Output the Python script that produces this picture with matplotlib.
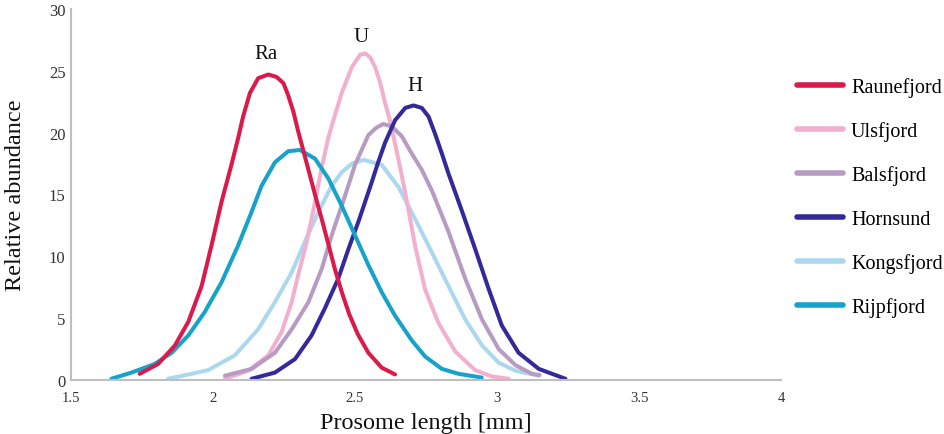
import matplotlib
matplotlib.use("Agg")
import matplotlib.pyplot as plt

plt.rcParams['font.family'] = ['Liberation Serif', 'DejaVu Serif']

# curves (prosome length [mm], relative abundance)
rau_x = [1.742, 1.807, 1.866, 1.913, 1.960, 1.995, 2.030, 2.065, 2.089, 2.106, 2.130, 2.159,
         2.195, 2.224, 2.248, 2.265, 2.283, 2.300, 2.336, 2.359, 2.383, 2.406, 2.430, 2.455,
         2.480, 2.510, 2.547, 2.594, 2.641]
rau_y = [0.5, 1.3, 2.8, 4.7, 7.6, 10.9, 14.4, 17.4, 19.6, 21.3, 23.2, 24.4,
         24.7, 24.5, 24.0, 23.0, 21.7, 20.1, 17.0, 15.0, 13.0, 11.0, 8.9, 7.0,
         5.3, 3.7, 2.2, 1.0, 0.45]

uls_x = [2.042, 2.124, 2.195, 2.242, 2.277, 2.300, 2.324, 2.347, 2.383, 2.405, 2.424, 2.453,
         2.489, 2.518, 2.536, 2.553, 2.571, 2.589, 2.606, 2.624, 2.645, 2.665, 2.688, 2.712,
         2.747, 2.794, 2.853, 2.923, 2.980, 3.041]
uls_y = [0.1, 0.75, 2.0, 3.9, 6.3, 8.5, 10.6, 13.0, 17.2, 19.5, 21.0, 23.2,
         25.3, 26.3, 26.4, 26.1, 25.3, 24.0, 22.4, 20.9, 18.7, 16.5, 13.8, 10.8,
         7.3, 4.6, 2.3, 0.8, 0.3, 0.1]

bal_x = [2.042, 2.136, 2.218, 2.277, 2.336, 2.383, 2.418, 2.440, 2.465, 2.500, 2.547, 2.575,
         2.600, 2.630, 2.665, 2.700, 2.735, 2.771, 2.829, 2.888, 2.947, 3.006, 3.065, 3.123,
         3.150]
bal_y = [0.35, 0.9, 2.2, 4.1, 6.3, 9.0, 11.7, 13.2, 14.9, 17.4, 19.8, 20.4,
         20.7, 20.5, 19.7, 18.3, 17.0, 15.3, 12.0, 8.2, 4.9, 2.5, 1.2, 0.5,
         0.4]

hor_x = [2.136, 2.218, 2.289, 2.347, 2.394, 2.441, 2.477, 2.512, 2.559, 2.580, 2.606, 2.641,
         2.677, 2.706, 2.735, 2.759, 2.782, 2.806, 2.829, 2.876, 2.923, 2.970, 3.017, 3.076,
         3.147, 3.241]
hor_y = [0.1, 0.6, 1.7, 3.6, 5.8, 8.2, 10.6, 12.8, 16.0, 17.5, 19.2, 21.0,
         22.0, 22.2, 22.0, 21.3, 19.9, 18.3, 16.7, 13.7, 10.6, 7.4, 4.4, 2.2,
         0.9, 0.1]

kon_x = [1.842, 1.924, 1.983, 2.077, 2.159, 2.218, 2.277, 2.324, 2.371, 2.418, 2.453, 2.490,
         2.530, 2.594, 2.653, 2.712, 2.771, 2.829, 2.888, 2.947, 3.006, 3.065, 3.147]
kon_y = [0.1, 0.5, 0.8, 2.0, 4.1, 6.3, 8.7, 11.2, 13.6, 15.7, 16.8, 17.5,
         17.8, 17.4, 15.6, 13.0, 10.3, 7.6, 4.9, 2.8, 1.4, 0.75, 0.35]

rij_x = [1.642, 1.713, 1.795, 1.854, 1.913, 1.971, 2.030, 2.089, 2.136, 2.171, 2.218, 2.265,
         2.306, 2.359, 2.406, 2.453, 2.500, 2.547, 2.594, 2.641, 2.700, 2.747, 2.806, 2.865,
         2.946]
rij_y = [0.1, 0.6, 1.3, 2.2, 3.6, 5.5, 7.9, 10.9, 13.6, 15.7, 17.6, 18.5,
         18.6, 17.9, 16.3, 14.1, 11.7, 9.3, 7.1, 5.2, 3.2, 1.9, 0.9, 0.5,
         0.2]

names = ['Raunefjord', 'Ulsfjord', 'Balsfjord', 'Hornsund', 'Kongsfjord', 'Rijpfjord']
colors = ['#d91a4b', '#f2b0cf', '#b69cc2', '#34299a', '#acd8ef', '#17a2cb']

x_ticks = [1.5, 2, 2.5, 3, 3.5, 4]
x_ticklabels = ['1.5', '2', '2.5', '3', '3.5', '4']
y_ticks = [0, 5, 10, 15, 20, 25, 30]

peak_labels = ['Ra', 'U', 'H']
peak_x = [2.188, 2.522, 2.712]
peak_y = [26.4, 27.75, 23.85]

fig = plt.figure(figsize=(9.45, 4.35), dpi=100)
ax = fig.add_axes([0.0751, 0.1241, 0.7514, 0.853])

series = [(rau_x, rau_y), (uls_x, uls_y), (bal_x, bal_y),
          (hor_x, hor_y), (kon_x, kon_y), (rij_x, rij_y)]
# draw order like the reference: Raunefjord on top of the others
order = [4, 1, 2, 3, 5, 0]
handles = [None] * 6
for i in order:
    xs, ys = series[i]
    ln, = ax.plot(xs, ys, color=colors[i], lw=2.9, label=names[i],
                  solid_capstyle='round', solid_joinstyle='round')
    handles[i] = ln

for t, x, y in zip(peak_labels, peak_x, peak_y):
    ax.text(x, y, t, ha='center', va='center', fontsize=15, color='#111111')

ax.set_xlim(1.5, 4)
ax.set_ylim(0, 30)
ax.set_xticks(x_ticks)
ax.set_xticklabels(x_ticklabels)
ax.set_yticks(y_ticks)
ax.tick_params(axis='x', length=0, pad=8, labelsize=10.5, labelcolor='#333333')
ax.tick_params(axis='y', length=0, pad=4, labelsize=12, labelcolor='#333333')

for s in ['top', 'right']:
    ax.spines[s].set_visible(False)
for s in ['left', 'bottom']:
    ax.spines[s].set_color('#bfbfbf')
    ax.spines[s].set_linewidth(1.5)

ax.set_xlabel('Prosome length [mm]', fontsize=17.5, color='#111111', labelpad=6)
ax.set_ylabel('Relative abundance', fontsize=17.5, color='#111111', labelpad=16)

fig.legend(handles=handles, labels=names, loc='upper left',
           bbox_to_anchor=(0.843, 0.82), frameon=False, fontsize=14.5,
           handlelength=2.3, handletextpad=0.4, labelspacing=1.2,
           borderpad=0, borderaxespad=0)
for lh in fig.legends[0].get_lines():
    lh.set_linewidth(4)

fig.savefig('out.png', dpi=100)
